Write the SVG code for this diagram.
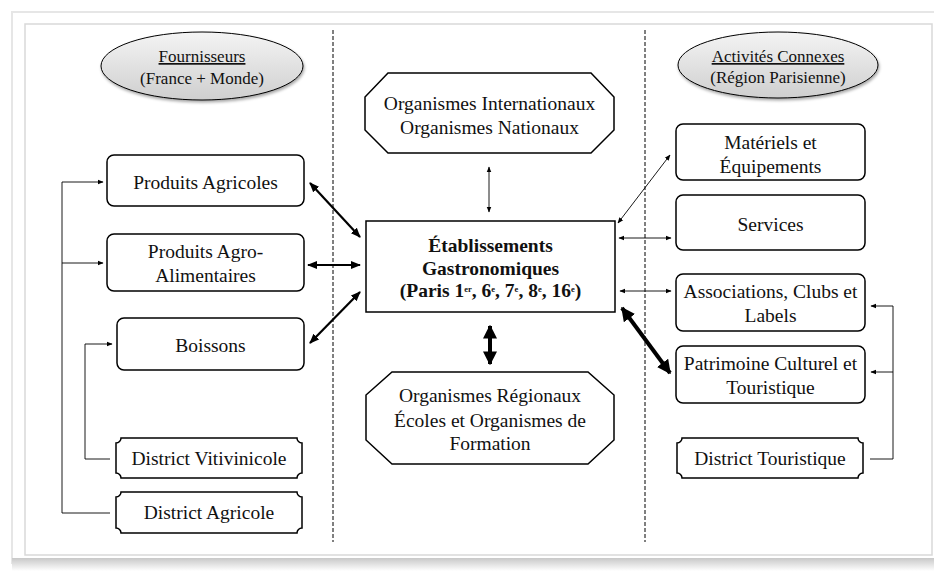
<svg xmlns="http://www.w3.org/2000/svg" width="934" height="571" viewBox="0 0 934 571" font-family="'Liberation Serif', 'Times New Roman', 'DejaVu Serif', serif">
<defs>
<linearGradient id="ellg" x1="0" y1="0" x2="0" y2="1">
<stop offset="0" stop-color="#f4f4f4"/>
<stop offset="1" stop-color="#cfcfcf"/>
</linearGradient>
<linearGradient id="shadowg" x1="0" y1="0" x2="0" y2="1">
<stop offset="0" stop-color="#c8c8c8"/>
<stop offset="1" stop-color="#ffffff"/>
</linearGradient>
<filter id="sh" x="-10%" y="-10%" width="120%" height="130%">
<feDropShadow dx="1" dy="2" stdDeviation="1.5" flood-color="#000" flood-opacity="0.35"/>
</filter>
<marker id="ah" viewBox="0 0 10 10" refX="9" refY="5" markerWidth="6" markerHeight="6" orient="auto-start-reverse" markerUnits="userSpaceOnUse">
<path d="M0,1 L10,5 L0,9 Z" fill="#000"/>
</marker>
<marker id="ahm" viewBox="0 0 10 10" refX="9" refY="5" markerWidth="10" markerHeight="10" orient="auto-start-reverse" markerUnits="userSpaceOnUse">
<path d="M0,1 L10,5 L0,9 Z" fill="#000"/>
</marker>
<marker id="ahb" viewBox="0 0 10 10" refX="9" refY="5" markerWidth="14" markerHeight="14" orient="auto-start-reverse" markerUnits="userSpaceOnUse">
<path d="M0,0 L10,5 L0,10 Z" fill="#000"/>
</marker>
</defs>
<style>
text{font-family:'Liberation Serif','Times New Roman','DejaVu Serif',serif;fill:#111;font-size:19.5px;text-anchor:middle}
.box{fill:#fff;stroke:#000;stroke-width:1.5}
.ell{fill:url(#ellg);stroke:#000;stroke-width:1}
.thin{stroke:#000;stroke-width:0.9;fill:none}
.mid{stroke:#000;stroke-width:2.2;fill:none}
.thick{stroke:#000;stroke-width:4;fill:none}
.dash{stroke:#000;stroke-width:1;stroke-dasharray:4,2}
.bold{font-weight:bold}
.hdr{font-size:17px}
</style>
<rect x="0" y="0" width="934" height="571" fill="#fff"/>
<rect x="12" y="12" width="930" height="551" fill="#fff" stroke="#e6e6e6" stroke-width="2"/>
<rect x="12" y="558" width="930" height="13" fill="url(#shadowg)"/>
<rect x="25" y="24" width="907" height="531" fill="#fff" stroke="#d9d9d9" stroke-width="1.5"/>

<line class="dash" x1="333" y1="30" x2="333" y2="542"/>
<line class="dash" x1="645" y1="30" x2="645" y2="542"/>

<g id="fournisseurs">
<ellipse class="ell" cx="202" cy="66" rx="101" ry="34" filter="url(#sh)"/>
<text class="hdr" x="202" y="62" text-decoration="underline">Fournisseurs</text>
<text class="hdr" x="202" y="84">(France + Monde)</text>
</g>
<g id="activites">
<ellipse class="ell" cx="778" cy="65" rx="100" ry="33" filter="url(#sh)"/>
<text class="hdr" x="778" y="62" text-decoration="underline">Activités Connexes</text>
<text class="hdr" x="778" y="83">(Région Parisienne)</text>
</g>

<g id="produits-agricoles">
<rect class="box" x="107" y="155" width="197" height="51" rx="7"/>
<text x="205.500" y="189">Produits Agricoles</text>
</g>
<g id="produits-agro">
<rect class="box" x="107" y="234" width="197" height="57" rx="7"/>
<text x="205.500" y="258">Produits Agro-</text>
<text x="205.500" y="282">Alimentaires</text>
</g>
<g id="boissons">
<rect class="box" x="117" y="318" width="187" height="52" rx="7"/>
<text x="210.500" y="352">Boissons</text>
</g>
<g id="district-vitivinicole">
<path class="box" stroke-width="1.2" d="M121,438 H297 A5,5 0 0 0 302,443 V473 A5,5 0 0 0 297,478 H121 A5,5 0 0 0 116,473 V443 A5,5 0 0 0 121,438 Z"/>
<text x="209" y="465">District Vitivinicole</text>
</g>
<g id="district-agricole">
<path class="box" stroke-width="1.2" d="M121,492 H297 A5,5 0 0 0 302,497 V528 A5,5 0 0 0 297,533 H121 A5,5 0 0 0 116,528 V497 A5,5 0 0 0 121,492 Z"/>
<text x="209" y="519">District Agricole</text>
</g>

<g id="organismes-internationaux">
<path class="box" d="M388,73 H591 L614,97 V130 L591,153 H388 L365,130 V97 Z"/>
<text x="489.500" y="110">Organismes Internationaux</text>
<text x="489.500" y="134">Organismes Nationaux</text>
</g>
<g id="etablissements">
<rect class="box" x="366" y="221" width="249" height="91"/>
<text class="bold" x="490.500" y="252" font-size="20.5">Établissements</text>
<text class="bold" x="490.500" y="275" font-size="20.5">Gastronomiques</text>
<text class="bold" x="490.500" y="297" font-size="14">(Paris 1<tspan font-size="8.5" dy="-5">er</tspan><tspan dy="5">, 6</tspan><tspan font-size="8.5" dy="-5">e</tspan><tspan dy="5">, 7</tspan><tspan font-size="8.5" dy="-5">e</tspan><tspan dy="5">, 8</tspan><tspan font-size="8.5" dy="-5">e</tspan><tspan dy="5">, 16</tspan><tspan font-size="8.5" dy="-5">e</tspan><tspan dy="5">)</tspan></text>
</g>
<g id="organismes-regionaux">
<path class="box" d="M392,372 H588 L614,395 V440 L588,464 H392 L366,440 V395 Z"/>
<text x="490" y="402">Organismes Régionaux</text>
<text x="490" y="427">Écoles et Organismes de</text>
<text x="490" y="450">Formation</text>
</g>

<g id="materiels">
<rect class="box" x="676" y="124" width="189" height="56" rx="7"/>
<text x="770.500" y="149">Matériels et</text>
<text x="770.500" y="173">Équipements</text>
</g>
<g id="services">
<rect class="box" x="676" y="195" width="189" height="55" rx="7"/>
<text x="770.500" y="231">Services</text>
</g>
<g id="associations">
<rect class="box" x="676" y="274" width="189" height="57" rx="7"/>
<text x="770.500" y="298">Associations, Clubs et</text>
<text x="770.500" y="322">Labels</text>
</g>
<g id="patrimoine">
<rect class="box" x="676" y="346" width="189" height="57" rx="7"/>
<text x="770.500" y="370">Patrimoine Culturel et</text>
<text x="770.500" y="394">Touristique</text>
</g>
<g id="district-touristique">
<path class="box" stroke-width="1.2" d="M682,438 H858 A5,5 0 0 0 863,443 V473 A5,5 0 0 0 858,478 H682 A5,5 0 0 0 677,473 V443 A5,5 0 0 0 682,438 Z"/>
<text x="770" y="465">District Touristique</text>
</g>

<g id="connectors">
<polyline class="thin" points="110,513 62,513 62,182 103,182" marker-end="url(#ah)"/>
<line class="thin" x1="62" y1="263" x2="103" y2="263" marker-end="url(#ah)"/>
<polyline class="thin" points="110,459 85,459 85,344 112,344" marker-end="url(#ah)"/>
<polyline class="thin" points="870,459 893,459 893,306 871,306" marker-end="url(#ah)"/>
<line class="thin" x1="893" y1="372" x2="871" y2="372" marker-end="url(#ah)"/>

<line class="thin" x1="489" y1="167" x2="489" y2="212" marker-start="url(#ah)" marker-end="url(#ah)"/>
<line class="thick" x1="490" y1="326" x2="490" y2="364" marker-start="url(#ahb)" marker-end="url(#ahb)"/>

<line class="mid" x1="310" y1="183" x2="360" y2="237" marker-start="url(#ahm)" marker-end="url(#ahm)"/>
<line class="mid" x1="308" y1="265" x2="360" y2="265" marker-start="url(#ahm)" marker-end="url(#ahm)"/>
<line class="mid" x1="310" y1="343" x2="360" y2="292" marker-start="url(#ahm)" marker-end="url(#ahm)"/>

<line class="thin" x1="670" y1="155" x2="618" y2="223" marker-start="url(#ah)" marker-end="url(#ah)"/>
<line class="thin" x1="619" y1="238" x2="671" y2="238" marker-start="url(#ah)" marker-end="url(#ah)"/>
<line class="thin" x1="620" y1="291" x2="671" y2="291" marker-start="url(#ah)" marker-end="url(#ah)"/>
<line class="thick" stroke-width="3" x1="622" y1="308" x2="670" y2="373" marker-start="url(#ahb)" marker-end="url(#ahb)"/>
</g>
</svg>
